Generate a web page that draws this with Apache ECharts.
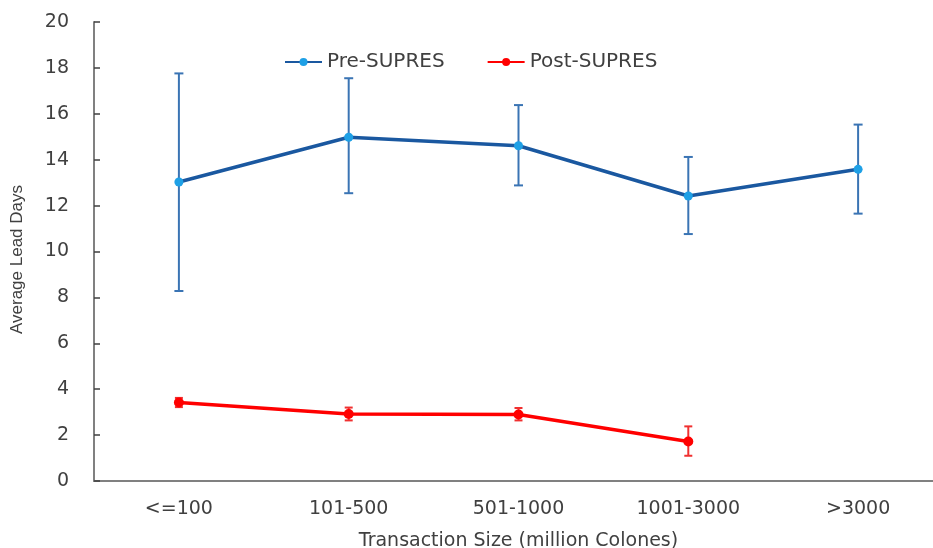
<!DOCTYPE html>
<html><head><meta charset="utf-8">
<script src="https://cdn.jsdelivr.net/npm/echarts@6/dist/echarts.min.js"></script>
<style>html,body{margin:0;padding:0;background:#fff}#c{width:933px;height:548px}</style>
</head><body><div id="c"></div>
<script>
var categories = ['<=100', '101-500', '501-1000', '1001-3000', '>3000'];
var preMean = [13.03, 14.98, 14.61, 12.42, 13.58];
var preLow  = [8.28, 12.54, 12.88, 10.76, 11.65];
var preHigh = [17.76, 17.55, 16.38, 14.12, 15.53];
var postMean = [3.42, 2.92, 2.90, 1.72, null];
var postLow  = [3.22, 2.64, 2.64, 1.10, null];
var postHigh = [3.62, 3.20, 3.18, 2.38, null];
var yTicks = [0, 20, 2];

function errData(lo, hi) {
  var d = [];
  for (var i = 0; i < lo.length; i++) if (lo[i] != null) d.push([i, lo[i], hi[i]]);
  return d;
}
function errRender(color, width, w) {
  return function (params, api) {
    var x = api.value(0);
    var lo = api.coord([x, api.value(1)]);
    var hi = api.coord([x, api.value(2)]);
    var st = { stroke: color, lineWidth: width };
    return { type: 'group', children: [
      { type: 'line', shape: { x1: lo[0], y1: lo[1], x2: hi[0], y2: hi[1] }, style: st },
      { type: 'line', shape: { x1: hi[0] - w, y1: hi[1], x2: hi[0] + w, y2: hi[1] }, style: st },
      { type: 'line', shape: { x1: lo[0] - w, y1: lo[1], x2: lo[0] + w, y2: lo[1] }, style: st }
    ]};
  };
}
var FONT = 'DejaVu Sans';
var chart = echarts.init(document.getElementById('c'));
chart.setOption({
  animation: false,
  textStyle: { fontFamily: FONT },
  legend: {
    top: 47, left: 279, itemGap: 42, itemWidth: 37, itemHeight: 10,
    textStyle: { fontSize: 20, color: '#404040', fontFamily: FONT },
    data: ['Pre-SUPRES', 'Post-SUPRES']
  },
  grid: { left: 94, right: -10, top: 22, bottom: 67, outerBoundsMode: 'none', containLabel: false },
  xAxis: {
    type: 'category', data: categories,
    name: 'Transaction Size (million Colones)', nameLocation: 'middle', nameGap: 51,
    nameTextStyle: { fontSize: 19, color: '#404040', fontFamily: FONT },
    axisLine: { lineStyle: { color: '#808080', width: 2 } },
    axisTick: { inside: true, length: 6, lineStyle: { color: '#404040', width: 1.5 } },
    axisLabel: { fontSize: 19, color: '#404040', margin: 19, fontFamily: FONT }
  },
  yAxis: {
    type: 'value', min: yTicks[0], max: yTicks[1], interval: yTicks[2],
    name: 'Average Lead Days', nameLocation: 'middle', nameGap: 68,
    nameTextStyle: { fontSize: 17, color: '#404040', fontFamily: 'Liberation Sans', padding: [0, 0, 0, -16] },
    axisLine: { show: true, lineStyle: { color: '#808080', width: 2 } },
    axisTick: { show: true, inside: true, length: 6, lineStyle: { color: '#404040', width: 1.5 } },
    axisLabel: { fontSize: 19, color: '#404040', margin: 25, fontFamily: FONT },
    splitLine: { show: false }
  },
  series: [
    { type: 'custom', name: 'preErr', data: errData(preLow, preHigh), renderItem: errRender('#3a74b4', 2, 4.5), z: 1, silent: true },
    { type: 'custom', name: 'postErr', data: errData(postLow, postHigh), renderItem: errRender('#f03030', 2, 4), z: 1, silent: true },
    { type: 'line', name: 'Pre-SUPRES', data: preMean, symbol: 'circle', symbolSize: 9,
      itemStyle: { color: '#1ea0e6' }, lineStyle: { color: '#1a58a0', width: 3.5 }, z: 3 },
    { type: 'line', name: 'Post-SUPRES', data: postMean, symbol: 'circle', symbolSize: 10,
      itemStyle: { color: '#ff0000' }, lineStyle: { color: '#ff0000', width: 3.5 }, z: 3 }
  ]
});
</script></body></html>
